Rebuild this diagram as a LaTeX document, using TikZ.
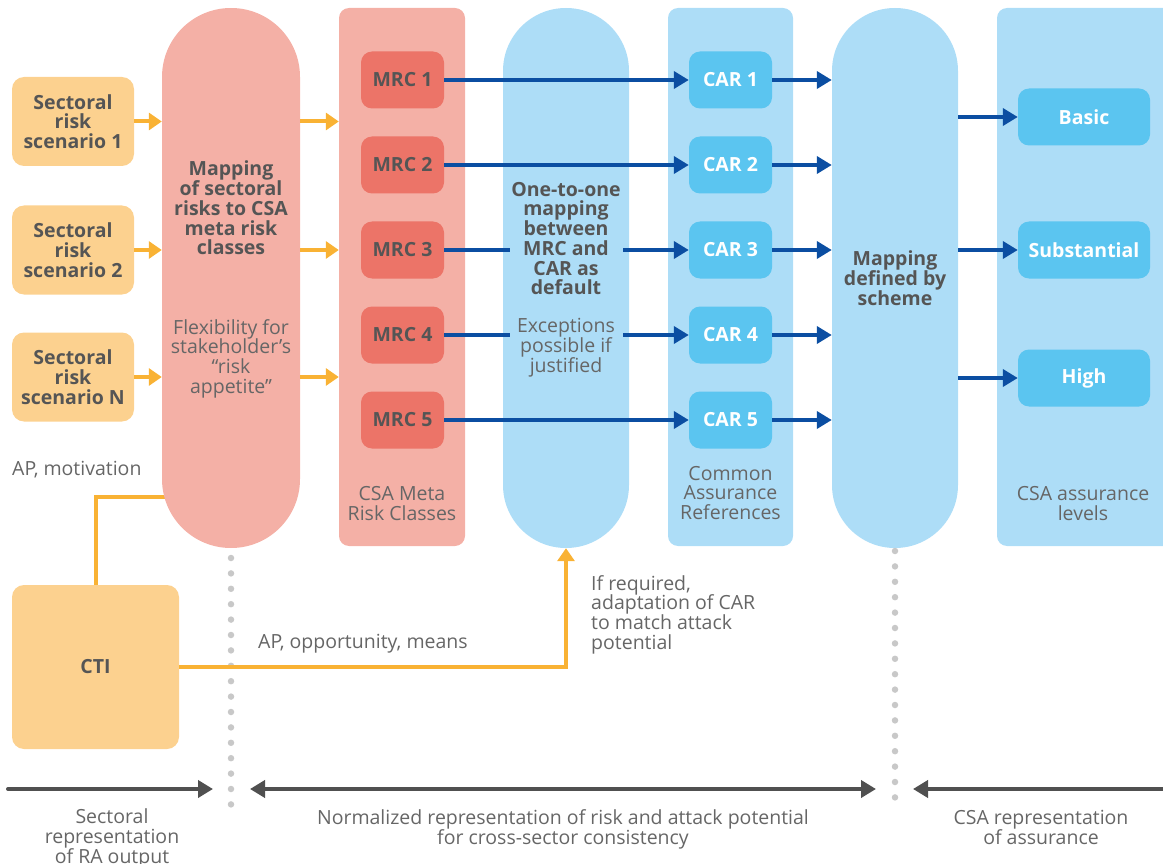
\documentclass[tikz,border=0pt]{standalone}
\usepackage{fontspec}
\setmainfont{Open Sans}
\usetikzlibrary{arrows.meta}
\pgfdeclarelayer{bg}
\pgfsetlayers{bg,main}

\definecolor{sectfill}{HTML}{FCD18F}
\definecolor{orangeline}{HTML}{F9B234}
\definecolor{pinkfill}{HTML}{F4B0A6}
\definecolor{mrcfill}{HTML}{EC7468}
\definecolor{bluefill}{HTML}{ADDDF7}
\definecolor{carfill}{HTML}{5BC5F0}
\definecolor{darkblue}{HTML}{0B4EA2}
\definecolor{txtdark}{HTML}{555555}
\definecolor{txtgray}{HTML}{666666}
\definecolor{dotgray}{HTML}{C8C8C8}
\definecolor{arrgray}{HTML}{505050}

\tikzset{
  txt/.style={font=\fontsize{19.5}{19.7}\selectfont, inner sep=0pt, align=center, text=txtgray},
  btxt/.style={font=\fontsize{19.5}{19.7}\selectfont\bfseries, inner sep=0pt, align=center, text=txtdark},
  capsule/.style={fill=#1, rounded corners=62.9pt, minimum width=126pt, minimum height=540pt, inner sep=0pt},
  panel/.style={fill=#1, rounded corners=10pt, minimum height=538pt, inner sep=0pt},
  sbox/.style={btxt, fill=sectfill, rounded corners=12pt, minimum width=122pt, minimum height=89pt},
  mrcbox/.style={btxt, fill=mrcfill, rounded corners=11pt, minimum width=83pt, minimum height=57pt},
  carbox/.style={btxt, fill=carfill, text=white, rounded corners=11pt, minimum width=83pt, minimum height=57pt},
  oline/.style={draw=orangeline, line width=4pt},
  oarrow/.style={oline, -{Triangle[length=13pt,width=17pt]}},
  barrow/.style={draw=darkblue, line width=4.5pt, -{Triangle[length=15pt,width=17pt]}},
  gline/.style={draw=arrgray, line width=4pt, line cap=round},
  gtip/.style={-{Triangle[length=15pt,width=17pt]}},
  dots/.style={draw=dotgray, line width=6.5pt, line cap=round, dash pattern=on 0pt off 15.4pt},
  mask/.style={fill=bluefill, minimum width=113pt, inner ysep=1pt},
}

\begin{document}
\begin{tikzpicture}[x=1pt,y=-1pt]
\useasboundingbox (0,0) rectangle (1163,864);

% columns
\node[capsule=pinkfill, minimum width=138pt, rounded corners=68.9pt] (map) at (231,278) {};
\node[panel=pinkfill, minimum width=126pt] (mrcpanel) at (402,277) {};
\node[capsule=bluefill] (one) at (566,278) {};
\node[panel=bluefill, minimum width=125pt] (carpanel) at (730.5,277) {};
\node[capsule=bluefill] (scheme) at (895,278) {};
\node[panel=bluefill, minimum width=184pt] (lvlpanel) at (1089,277) {};

% sectoral inputs
\node[sbox] (s1) at (73,121.5) {Sectoral\\risk\\scenario 1};
\node[sbox] (s2) at (73,250) {Sectoral\\risk\\scenario 2};
\node[sbox] (s3) at (73,377) {Sectoral\\risk\\scenario N};
\node[sbox, minimum width=167pt, minimum height=164pt] (cti) at (95.5,667) {CTI};

% meta risk classes and assurance references
\foreach \i/\y in {1/80,2/165,3/250,4/335,5/420}{
  \node[mrcbox] (mrc\i) at (402.5,\y) {MRC \i};
  \node[carbox] (car\i) at (730.5,\y) {CAR \i};
}

% assurance levels
\node[carbox, minimum width=132pt] (basic) at (1084,117) {Basic};
\node[carbox, minimum width=132pt] (subst) at (1084,250) {Substantial};
\node[carbox, minimum width=132pt] (high) at (1084,378) {High};

% texts inside the columns
\node[btxt] (maptitle) at (231,208) {Mapping\\of sectoral\\risks to CSA\\meta risk\\classes};
\node[txt] (flex) at (231,358.5) {Flexibility for\\stakeholder’s\\“risk\\appetite”};
\node[btxt] (schemetext) at (895,278) {Mapping\\defined by\\scheme};
\node[txt] (mrclabel) at (402,503.5) {CSA Meta\\Risk Classes};
\node[txt] (carlabel) at (730.5,493) {Common\\Assurance\\References};
\node[txt] (lvllabel) at (1083,503.5) {CSA assurance\\levels};

% orange connectors
\foreach \i in {1,2,3}{
  \draw[oarrow] (s\i.east) -- (s\i.east -| map.west);
  \draw[oarrow] (map.east |- s\i.east) -- (mrcpanel.west |- s\i.east);
}
\coordinate (motin) at (231,497);
\begin{pgfonlayer}{bg}
  \draw[oline] (cti.north) |- (motin);
\end{pgfonlayer}

% dotted separators
\coordinate (d1a) at (231,558);
\coordinate (d1b) at (231,805);
\coordinate (d2a) at (895,551);
\coordinate (d2b) at (895,805);
\draw[dots] (d1a) -- (d1b);
\draw[dots] (d2a) -- (d2b);

\draw[oarrow] (cti.east) -| (one.south);

% blue connectors
\foreach \i in {1,...,5}{
  \draw[barrow] (mrc\i.east) -- (car\i.west);
  \draw[barrow] (car\i.east) -- (car\i.east -| scheme.west);
}
\foreach \n in {basic,subst,high}
  \draw[barrow] (scheme.east |- \n.west) -- (\n.west);

% texts of the one-to-one column, masking the connectors behind them
\node[btxt, mask] (onetext) at (566,238.5)
  {One-to-one\\mapping\\between\\MRC and\\CAR as\\default};
\node[txt, mask] (exctext) at (566,347.5)
  {Exceptions\\possible if\\justified};

% free labels
\node[txt, anchor=west] (apmot) at (12,470) {AP, motivation};
\node[txt, anchor=west] (apopp) at (258,643.5) {AP, opportunity, means};
\node[txt, align=left, anchor=west] (adapt) at (591,614.5) {If required,\\adaptation of CAR\\to match attack\\potential};

% bottom scale
\coordinate (b0) at (8,789);
\coordinate (b1) at (213,789);
\coordinate (b2) at (250,789);
\coordinate (b3) at (876,789);
\coordinate (b4) at (913,789);
\coordinate (b5) at (1172,789);
\draw[gline, gtip] (b0) -- (b1);
\draw[gline, {Triangle[length=15pt,width=17pt]}-{Triangle[length=15pt,width=17pt]}] (b2) -- (b3);
\draw[gline, gtip] (b5) -- (b4);

\node[txt] (secrep) at (112,838.5) {Sectoral\\representation\\of RA output};
\node[txt] (normrep) at (563,829.5) {Normalized representation of risk and attack potential\\for cross-sector consistency};
\node[txt] (csarep) at (1041,827.5) {CSA representation\\of assurance};
\end{tikzpicture}
\end{document}
